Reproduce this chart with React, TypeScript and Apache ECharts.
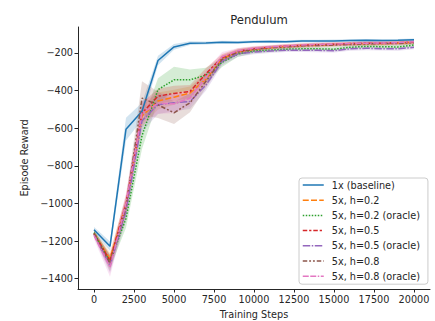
import React, { useEffect, useRef } from 'react';
import * as echarts from 'echarts';

const steps = [0, 1000, 2000, 3000, 4000, 5000, 6000, 7000, 8000, 9000, 10000, 11000, 12000, 13000, 14000, 15000, 16000, 17000, 18000, 19000, 20000];
const xTicks = [0, 2500, 5000, 7500, 10000, 12500, 15000, 17500, 20000];
const yTicks = [-1400, -1200, -1000, -800, -600, -400, -200];

const seriesNames = ['1x (baseline)', '5x, h=0.2', '5x, h=0.2 (oracle)', '5x, h=0.5', '5x, h=0.5 (oracle)', '5x, h=0.8', '5x, h=0.8 (oracle)'];

const baseline = [-1140, -1228, -605, -510, -240, -168, -148, -147, -143, -145, -140, -139, -140, -137, -137, -136, -134, -133, -134, -133, -130];
const h02 = [-1160, -1295, -1010, -535, -455, -435, -413, -340, -230, -195, -180, -172, -166, -160, -158, -155, -152, -150, -150, -147, -143];
const h02o = [-1155, -1310, -1080, -640, -395, -343, -343, -318, -250, -205, -190, -185, -180, -178, -178, -180, -170, -165, -167, -168, -158];
const h05 = [-1160, -1305, -1000, -520, -430, -415, -405, -310, -225, -190, -178, -170, -163, -160, -156, -154, -150, -148, -148, -146, -142];
const h05o = [-1165, -1330, -1040, -560, -475, -465, -458, -370, -245, -205, -195, -190, -185, -185, -186, -188, -178, -175, -177, -178, -170];
const h08 = [-1160, -1320, -1020, -440, -476, -518, -465, -350, -235, -195, -180, -172, -168, -162, -160, -158, -155, -152, -150, -150, -145];
const h08o = [-1170, -1340, -1000, -520, -468, -470, -440, -330, -220, -188, -175, -168, -163, -158, -155, -153, -150, -148, -147, -145, -140];

const baselineCi = [15, 25, 60, 45, 25, 15, 10, 8, 8, 8, 7, 7, 7, 7, 7, 7, 7, 7, 7, 7, 7];
const h02Ci = [15, 35, 45, 60, 45, 40, 35, 30, 20, 15, 12, 10, 10, 10, 10, 10, 10, 10, 10, 10, 10];
const h02oCi = [15, 35, 50, 70, 60, 70, 55, 40, 25, 15, 12, 10, 10, 10, 10, 10, 10, 10, 10, 10, 10];
const h05Ci = [15, 35, 45, 55, 40, 40, 35, 30, 20, 15, 12, 10, 10, 10, 10, 10, 10, 10, 10, 10, 10];
const h05oCi = [15, 40, 50, 60, 50, 45, 40, 30, 20, 15, 12, 10, 10, 10, 10, 10, 10, 10, 10, 10, 10];
const h08Ci = [15, 40, 50, 90, 70, 60, 50, 35, 20, 15, 12, 10, 10, 10, 10, 10, 10, 10, 10, 10, 10];
const h08oCi = [20, 50, 55, 65, 55, 50, 45, 35, 25, 15, 12, 10, 10, 10, 10, 10, 10, 10, 10, 10, 10];

const colors = ['#1f77b4', '#ff7f0e', '#2ca02c', '#d62728', '#9467bd', '#8c564b', '#e377c2'];
const dashes: any[] = [
  'solid',
  [6, 2.25],
  [1.5, 1.5],
  [4.5, 1.9, 2.25, 1.9],
  [7.5, 1.5, 1.5, 1.5],
  [4.5, 1.9, 1.9, 1.9, 1.9, 1.9],
  [6, 1.5, 6, 1.5, 1.5, 1.5],
];

const FONT = 'DejaVu Sans';
const TEXT = '#262626';

function rgba(hex: string, a: number) {
  const n = parseInt(hex.slice(1), 16);
  return `rgba(${(n >> 16) & 255},${(n >> 8) & 255},${n & 255},${a})`;
}

const fmt = (v: number) => (v < 0 ? '\u2212' + Math.abs(v) : String(v));

export default function App() {
  const ref = useRef<HTMLDivElement>(null);
  useEffect(() => {
    const chart = echarts.init(ref.current!, null, { renderer: 'svg' });
    const means = [baseline, h02, h02o, h05, h05o, h08, h08o];
    const cis = [baselineCi, h02Ci, h02oCi, h05Ci, h05oCi, h08Ci, h08oCi];
    const series: any[] = [];
    means.forEach((mean, k) => {
      const ci = cis[k];
      series.push({
        name: 'band' + k,
        type: 'custom',
        silent: true,
        z: 2,
        data: steps.map((s, i) => [s, mean[i] - ci[i], mean[i] + ci[i]]),
        encode: { x: 0, y: [1, 2] },
        renderItem: (params: any, api: any) => {
          if (params.dataIndex !== 0) return null;
          const upper = steps.map((s, i) => api.coord([s, mean[i] + ci[i]]));
          const lower = steps.map((s, i) => api.coord([s, mean[i] - ci[i]])).reverse();
          return {
            type: 'polygon',
            silent: true,
            shape: { points: upper.concat(lower) },
            style: { fill: rgba(colors[k], 0.2), stroke: 'none' },
          };
        },
      });
      series.push({
        name: seriesNames[k],
        type: 'line',
        silent: true,
        z: 3,
        symbol: 'none',
        showSymbol: false,
        data: steps.map((s, i) => [s, mean[i]]),
        lineStyle: { color: colors[k], width: 1.5, type: dashes[k] },
        itemStyle: { color: colors[k] },
      });
    });

    chart.setOption({
      animation: false,
      backgroundColor: '#ffffff',
      title: {
        text: 'Pendulum',
        left: 254,
        top: 9,
        textAlign: 'center',
        textStyle: { fontSize: 11.6, fontWeight: 'normal', color: TEXT, fontFamily: FONT },
      },
      grid: { left: 78, right: 5, top: 27, bottom: 32, containLabel: false, outerBoundsMode: 'none' },
      legend: {
        data: seriesNames,
        orient: 'vertical',
        left: 299,
        top: 178,
        padding: [2, 8, 3, 3],
        itemWidth: 21,
        itemHeight: 12,
        itemGap: 5.2,
        backgroundColor: 'rgba(255,255,255,0.8)',
        borderColor: '#cccccc',
        borderWidth: 1,
        borderRadius: 3,
        textStyle: { fontSize: 9.7, color: TEXT, fontFamily: FONT, padding: [0, 0, 0, 3] },
        lineStyle: { width: 1.5 },
        itemStyle: { color: 'rgba(0,0,0,0)', borderWidth: 0, opacity: 0 },
        selectedMode: false,
      },
      xAxis: {
        type: 'value',
        min: -1000,
        max: 21000,
        name: 'Training Steps',
        nameLocation: 'middle',
        nameGap: 20,
        nameTextStyle: { fontSize: 9.7, color: TEXT, fontFamily: FONT },
        axisLine: { show: true, onZero: false, lineStyle: { color: TEXT, width: 1 } },
        axisTick: { show: true, length: 3.5, customValues: xTicks, lineStyle: { color: TEXT, width: 1 } },
        axisLabel: { customValues: xTicks, formatter: fmt, fontSize: 9.7, color: TEXT, fontFamily: FONT, margin: 5 },
        splitLine: { show: false },
      },
      yAxis: {
        type: 'value',
        min: -1455,
        max: -62,
        name: 'Episode Reward',
        nameLocation: 'middle',
        nameGap: 46,
        nameTextStyle: { fontSize: 9.7, color: TEXT, fontFamily: FONT },
        axisLine: { show: true, onZero: false, lineStyle: { color: TEXT, width: 1 } },
        axisTick: { show: true, length: 3.5, customValues: yTicks, lineStyle: { color: TEXT, width: 1 } },
        axisLabel: { customValues: yTicks, formatter: fmt, fontSize: 9.7, color: TEXT, fontFamily: FONT, margin: 5 },
        splitLine: { show: false },
      },
      series,
    });
    return () => chart.dispose();
  }, []);
  return (
    <div
      ref={ref}
      style={{ position: 'absolute', left: 0, top: 0, width: 435, height: 321, background: '#fff' }}
    />
  );
}
